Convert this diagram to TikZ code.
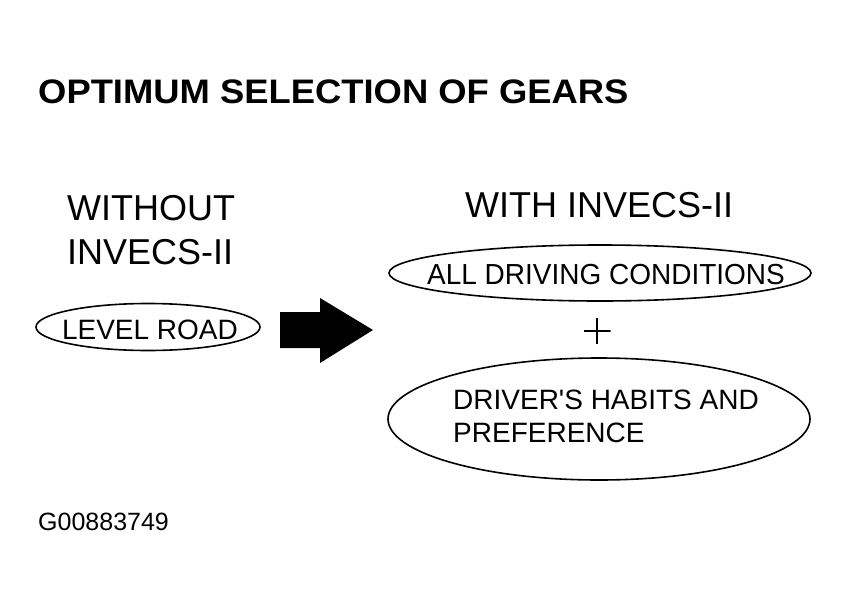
\documentclass[tikz,border=0pt]{standalone}
\usepackage{fontspec}
\setmainfont{Liberation Sans}
\usetikzlibrary{positioning,shapes.geometric}

\newcommand{\squeeze}[2]{\scalebox{#1}[1]{#2}}

\begin{document}
\begin{tikzpicture}[x=1pt, y=-1pt,
  oval/.style={draw, ellipse, line width=1.6pt, inner sep=0pt},
  head/.style={font=\fontsize{34}{40}\selectfont\bfseries, inner sep=0pt, anchor=base west},
  big/.style={font=\fontsize{36}{40}\selectfont, inner sep=0pt, anchor=base west},
  cond/.style={font=\fontsize{28}{33}\selectfont, inner sep=0pt},
  plusmark/.style={minimum width=27, minimum height=26, inner sep=0pt,
    path picture={\draw[line width=1.2pt]
      (path picture bounding box.north) -- (path picture bounding box.south)
      (path picture bounding box.west) -- (path picture bounding box.east);}}]
  \useasboundingbox (0,0) rectangle (848,602);
  \fill[white] (0,0) rectangle (848,602);

  % title and column headings
  \node[head] (title) at (38,103) {\squeeze{1.07}{OPTIMUM SELECTION OF GEARS}};
  \node[big] (without) at (67,220) {WITHOUT};
  \node[big] (invecs) at (67,264) {INVECS-II};
  \node[big] (with) at (465,217) {WITH INVECS-II};

  % left side: level road only
  \node[oval, minimum width=224, minimum height=47] (level) at (148,327) {};
  \node[cond] (leveltxt) at (150,330) {\squeeze{1.0}{LEVEL ROAD}};

  % block arrow
  \fill (280,312) -- (320,312) -- (320,298) -- (373,330) -- (320,363)
    -- (320,348) -- (280,348) -- cycle;

  % right side: conditions + habits
  \node[oval, minimum width=422, minimum height=56] (allcond) at (600,273) {};
  \node[cond, font=\fontsize{29}{33}\selectfont] (alltxt) at (606,275) {\squeeze{0.965}{ALL DRIVING CONDITIONS}};
  \node[plusmark] (plus) at (597,331) {};
  \node[oval, minimum width=422, minimum height=122] (habits) at (599,419) {};
  \node[cond, anchor=north west] (habtxt) at (453,386)
    {\begin{tabular}{@{}l@{}}DRIVER\textquotesingle S HABITS AND\\PREFERENCE\end{tabular}};

  % figure number
  \node[font=\fontsize{25}{30}\selectfont, inner sep=0pt, anchor=base west] (fig) at (38,530) {G00883749};
\end{tikzpicture}
\end{document}
